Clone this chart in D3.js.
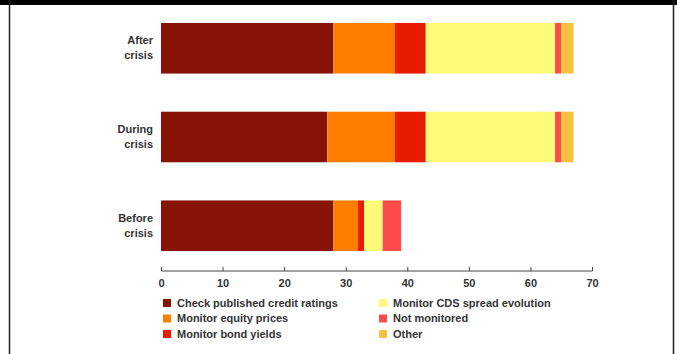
<!DOCTYPE html>
<html>
<head>
<meta charset="utf-8">
<script src="https://cdn.jsdelivr.net/npm/d3@7"></script>
<style>
  body { margin: 0; background: #fff; }
  svg text { font-family: "Liberation Sans Narrow", "Arial Narrow", "Liberation Sans", sans-serif; fill: #333; font-weight: bold; }
</style>
</head>
<body>
<div id="chart"></div>
<script>
// data
const categories = ['After crisis', 'During crisis', 'Before crisis'];
const seriesNames = ['Check published credit ratings', 'Monitor equity prices', 'Monitor bond yields',
  'Monitor CDS spread evolution', 'Not monitored', 'Other'];
const checkRatings = [28, 27, 28];
const equityPrices = [10, 11, 4];
const bondYields = [5, 5, 1];
const cdsSpread = [21, 21, 3];
const notMonitored = [1, 1, 3];
const other = [2, 2, 0];
const xTicks = [0, 10, 20, 30, 40, 50, 60, 70];
const colors = ['#861306', '#fe7f00', '#e91b00', '#fffb78', '#ff4b4b', '#f5c143'];

const W = 677, H = 354;
const margin = { top: 23, right: 85, bottom: 83, left: 161 };
const width = W - margin.left - margin.right;

const svg = d3.select('#chart').append('svg')
  .attr('width', W).attr('height', H);

// frame: black top band and side rules
svg.append('rect').attr('x', 0).attr('y', 0).attr('width', W).attr('height', 5).attr('fill', '#000');
svg.append('line').attr('x1', 9.5).attr('x2', 9.5).attr('y1', 0).attr('y2', H).attr('stroke', '#222').attr('stroke-width', 1.5);
svg.append('line').attr('x1', 673.5).attr('x2', 673.5).attr('y1', 0).attr('y2', H).attr('stroke', '#222').attr('stroke-width', 1.5);

const g = svg.append('g').attr('transform', `translate(${margin.left},${margin.top})`);

const rows = categories.map((c, i) => ({
  cat: c, s0: checkRatings[i], s1: equityPrices[i], s2: bondYields[i],
  s3: cdsSpread[i], s4: notMonitored[i], s5: other[i]
}));
const keys = ['s0', 's1', 's2', 's3', 's4', 's5'];
const stacked = d3.stack().keys(keys)(rows);

const x = d3.scaleLinear().domain([0, 70]).range([0, width]);
const y = d3.scaleBand().domain(categories).range([0, 228]).paddingInner(0.43).paddingOuter(0);

stacked.forEach((layer, k) => {
  g.selectAll('.bar' + k)
    .data(layer)
    .enter().append('rect')
    .attr('x', d => x(d[0]))
    .attr('y', d => y(d.data.cat))
    .attr('width', d => x(d[1]) - x(d[0]))
    .attr('height', y.bandwidth())
    .attr('fill', colors[k]);
});

// category labels, two lines, right aligned
categories.forEach(c => {
  const parts = c.split(' ');
  const cy = y(c) + y.bandwidth() / 2;
  const t = g.append('text')
    .attr('text-anchor', 'end')
    .attr('x', -8)
    .attr('y', cy - 8)
    .style('font-size', '11px');
  parts.forEach((p, j) => {
    t.append('tspan').attr('x', -8).attr('dy', j === 0 ? '0.35em' : '15').text(p);
  });
});

// x axis
const axisY = 248;
const axis = g.append('g')
  .attr('transform', `translate(0,${axisY})`)
  .call(d3.axisBottom(x).tickValues(xTicks).tickSize(-4).tickPadding(8));
axis.select('.domain').attr('stroke', '#444').attr('d', `M0.5,0H${width + 0.5}`);
axis.selectAll('.tick line').attr('stroke', '#444');
axis.selectAll('text').style('font-size', '11px').attr('fill', '#333');

// legend
const legend = svg.append('g');
seriesNames.forEach((name, i) => {
  const col = Math.floor(i / 3), row = i % 3;
  const lx = col === 0 ? 163 : 379;
  const ly = 303 + row * 15.5;
  legend.append('rect').attr('x', lx).attr('y', ly - 4).attr('width', 8).attr('height', 8).attr('fill', colors[i]);
  legend.append('text').attr('x', lx + 14).attr('y', ly).attr('dy', '0.35em')
    .style('font-size', '11px').text(name);
});
</script>
</body>
</html>
